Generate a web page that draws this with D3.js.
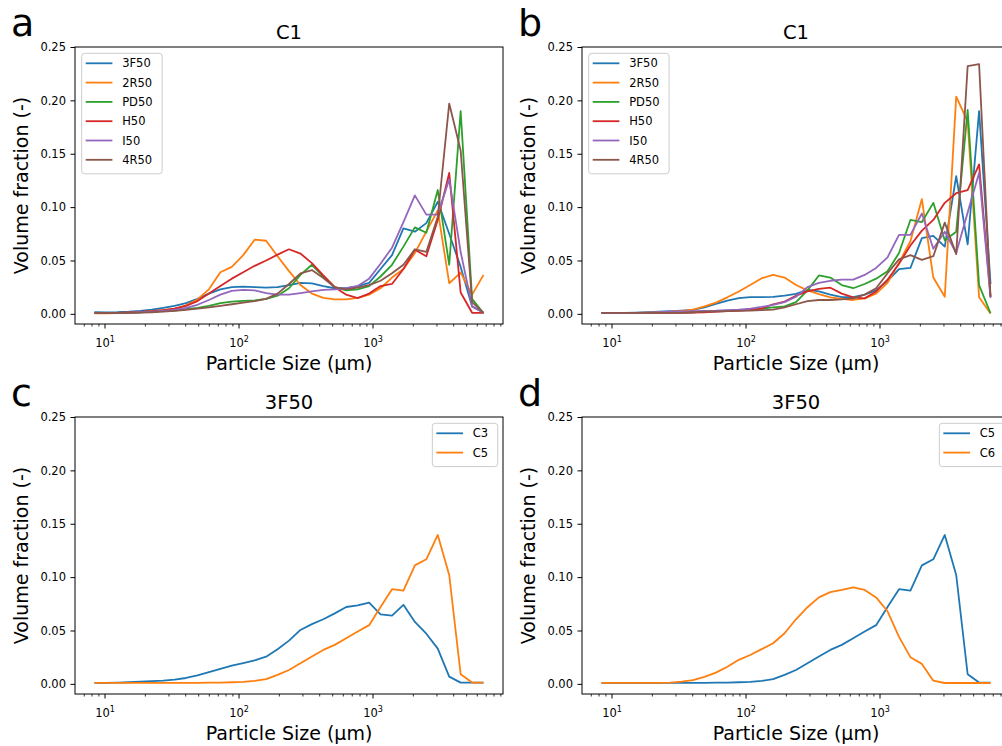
<!DOCTYPE html>
<html>
<head>
<meta charset="utf-8">
<script src="https://cdn.jsdelivr.net/npm/d3@7"></script>
<style>
  body { margin: 0; background: #fff; }
  svg { display: block; }
  text { font-family: "DejaVu Sans", sans-serif; fill: #000; }
</style>
</head>
<body>
<svg id="fig" width="1002" height="746"></svg>
<script>
// Particle size bins (µm), log-spaced
const sizes = [8.41, 10.24, 12.47, 15.18, 18.48, 22.49, 27.38, 33.33, 40.57, 49.39,
  60.12, 73.18, 89.09, 108.4, 132.0, 160.7, 195.6, 238.1, 289.9, 352.9,
  429.5, 522.9, 636.5, 774.8, 943.2, 1148, 1398, 1701, 2071, 2521,
  3069, 3736, 4548, 5536, 6740];

// Panel a: C1
const c1a_3F50 = [0.0015,0.0013,0.0015,0.002,0.0028,0.004,0.0055,0.0075,0.010,0.014,
  0.019,0.023,0.025,0.0255,0.025,0.0245,0.025,0.027,0.029,0.0285,
  0.026,0.024,0.024,0.026,0.029,0.042,0.055,0.080,0.077,0.085,
  0.105,0.075,0.044,0.007,0.001];
const c1a_2R50 = [0.0005,0.0005,0.0006,0.001,0.0015,0.0025,0.0035,0.005,0.008,0.0135,
  0.023,0.039,0.044,0.055,0.0695,0.0685,0.054,0.040,0.027,0.019,
  0.015,0.0135,0.0135,0.015,0.018,0.024,0.034,0.042,0.057,0.077,
  0.097,0.0287,0.0387,0.018,0.0365];
const c1a_PD50 = [0.001,0.001,0.001,0.0012,0.0015,0.002,0.0025,0.003,0.0044,0.0055,
  0.0075,0.010,0.0115,0.0122,0.0125,0.014,0.017,0.024,0.0365,0.046,
  0.035,0.025,0.022,0.023,0.026,0.035,0.046,0.063,0.081,0.076,
  0.116,0.046,0.190,0.014,0.0006];
const c1a_H50 = [0.001,0.001,0.001,0.0013,0.0018,0.0025,0.0035,0.005,0.0075,0.012,
  0.019,0.026,0.033,0.039,0.045,0.050,0.0555,0.0605,0.0565,0.0475,
  0.036,0.025,0.018,0.0148,0.019,0.026,0.028,0.042,0.060,0.054,
  0.088,0.132,0.020,0.001,0.001];
const c1a_I50 = [0.001,0.001,0.001,0.0012,0.0015,0.002,0.0028,0.0038,0.0055,0.0085,
  0.013,0.018,0.0215,0.0225,0.022,0.0195,0.018,0.018,0.0195,0.021,
  0.0225,0.023,0.024,0.026,0.033,0.047,0.062,0.086,0.111,0.093,
  0.093,0.126,0.058,0.007,0.001];
const c1a_4R50 = [0.001,0.0008,0.0008,0.001,0.0012,0.0015,0.002,0.0028,0.0038,0.005,
  0.006,0.0075,0.009,0.0105,0.012,0.014,0.019,0.028,0.038,0.041,
  0.0335,0.025,0.023,0.0245,0.027,0.031,0.038,0.046,0.0605,0.058,
  0.091,0.197,0.153,0.011,0.001];

// Panel b: C1
const c1b_3F50 = [0.001,0.001,0.001,0.0012,0.0015,0.002,0.0025,0.003,0.0037,0.006,
  0.0094,0.0125,0.0147,0.0156,0.0156,0.016,0.017,0.0187,0.0225,0.021,
  0.018,0.0156,0.0156,0.018,0.022,0.031,0.042,0.043,0.071,0.073,
  0.063,0.129,0.065,0.190,0.028];
const c1b_2R50 = [0.001,0.001,0.001,0.001,0.0012,0.0015,0.002,0.0028,0.004,0.007,
  0.0105,0.0155,0.021,0.027,0.0334,0.0365,0.034,0.027,0.022,0.0185,
  0.0155,0.014,0.013,0.0145,0.019,0.029,0.048,0.068,0.1075,0.034,
  0.016,0.2035,0.180,0.0156,0.0003];
const c1b_PD50 = [0.001,0.001,0.001,0.001,0.001,0.001,0.0012,0.0013,0.0015,0.002,
  0.0025,0.003,0.0035,0.004,0.005,0.006,0.007,0.011,0.022,0.036,
  0.034,0.027,0.024,0.028,0.033,0.040,0.057,0.088,0.086,0.104,
  0.069,0.077,0.191,0.027,0.0006];
const c1b_H50 = [0.001,0.001,0.001,0.001,0.001,0.001,0.001,0.001,0.0012,0.0015,
  0.002,0.0025,0.003,0.0037,0.005,0.009,0.0115,0.017,0.021,0.0235,
  0.0245,0.019,0.0155,0.0145,0.021,0.032,0.047,0.064,0.078,0.088,
  0.104,0.113,0.116,0.140,0.016];
const c1b_I50 = [0.001,0.001,0.001,0.001,0.0012,0.0015,0.002,0.0022,0.0025,0.0028,
  0.003,0.0035,0.004,0.005,0.0065,0.0085,0.011,0.016,0.025,0.029,
  0.031,0.032,0.032,0.0365,0.043,0.053,0.074,0.074,0.094,0.061,
  0.077,0.057,0.095,0.132,0.015];
const c1b_4R50 = [0.001,0.001,0.001,0.001,0.001,0.001,0.001,0.001,0.0015,0.002,
  0.0022,0.0025,0.0028,0.003,0.0035,0.004,0.006,0.009,0.012,0.013,
  0.013,0.0135,0.0145,0.018,0.024,0.038,0.051,0.055,0.0505,0.054,
  0.0855,0.056,0.232,0.234,0.016];

// Panels c and d: 3F50
const f3F50_C3 = [0.001,0.001,0.0012,0.0015,0.002,0.0025,0.003,0.004,0.0055,0.008,
  0.011,0.014,0.017,0.0195,0.022,0.0255,0.0325,0.0405,0.0505,0.056,
  0.0605,0.066,0.072,0.0735,0.076,0.065,0.064,0.074,0.058,0.047,
  0.033,0.0068,0.0012,0.0012,0.0012];
const f3F50_C5 = [0.001,0.001,0.001,0.001,0.001,0.001,0.001,0.001,0.001,0.001,
  0.0011,0.0012,0.0015,0.0019,0.0028,0.0044,0.0084,0.013,0.0194,0.0256,
  0.0318,0.0365,0.0428,0.049,0.055,0.072,0.0887,0.0874,0.111,0.1167,
  0.1395,0.102,0.009,0.0012,0.0012];
const f3F50_C6 = [0.001,0.001,0.001,0.001,0.001,0.001,0.0012,0.002,0.0035,0.0065,
  0.0105,0.016,0.0225,0.027,0.0325,0.038,0.0474,0.0605,0.0718,0.081,
  0.086,0.088,0.0905,0.088,0.081,0.068,0.044,0.025,0.0187,0.003,
  0.0008,0.0008,0.0008,0.0008,0.0008];

const yTicks = [0, 0.05, 0.10, 0.15, 0.20, 0.25];
const tab10 = ["#1f77b4", "#ff7f0e", "#2ca02c", "#d62728", "#9467bd", "#8c564b"];

const panels = [
  { letter: "a", title: "C1", left: 75, top: 47, legend: "left",
    series: [["3F50", c1a_3F50], ["2R50", c1a_2R50], ["PD50", c1a_PD50],
             ["H50", c1a_H50], ["I50", c1a_I50], ["4R50", c1a_4R50]] },
  { letter: "b", title: "C1", left: 582, top: 47, legend: "left",
    series: [["3F50", c1b_3F50], ["2R50", c1b_2R50], ["PD50", c1b_PD50],
             ["H50", c1b_H50], ["I50", c1b_I50], ["4R50", c1b_4R50]] },
  { letter: "c", title: "3F50", left: 75, top: 417, legend: "right",
    series: [["C3", f3F50_C3], ["C5", f3F50_C5]] },
  { letter: "d", title: "3F50", left: 582, top: 417, legend: "right",
    series: [["C5", f3F50_C5], ["C6", f3F50_C6]] }
];

const svg = d3.select("#fig");
const W = 428, H = 277;
const FS_TICK = 11.5, FS_LABEL = 19, FS_TITLE = 19.5;

// x limits: data range in log space with 5% margins
const lo = Math.log10(d3.min(sizes)), hi = Math.log10(d3.max(sizes));
const m = 0.05 * (hi - lo);
const xDomain = [Math.pow(10, lo - m), Math.pow(10, hi + m)];
const yDomain = [-0.0095, 0.25];

function drawPanel(p) {
  const g = svg.append("g").attr("transform", `translate(${p.left},${p.top})`);
  const x = d3.scaleLog().domain(xDomain).range([0, W]);
  const y = d3.scaleLinear().domain(yDomain).range([H, 0]);

  const clipId = "clip-" + p.letter;
  g.append("clipPath").attr("id", clipId)
    .append("rect").attr("width", W).attr("height", H);

  const line = d3.line().x((d, i) => x(sizes[i])).y(d => y(d));
  const plot = g.append("g").attr("clip-path", `url(#${clipId})`);
  p.series.forEach((s, k) => {
    plot.append("path")
      .attr("d", line(s[1]))
      .attr("fill", "none")
      .attr("stroke", tab10[k])
      .attr("stroke-width", 1.8)
      .attr("stroke-linejoin", "round");
  });

  // y axis
  const yAx = g.append("g").call(
    d3.axisLeft(y).tickValues(yTicks).tickFormat(d3.format(".2f"))
      .tickSize(4.5).tickPadding(4.5));
  yAx.select(".domain").remove();
  yAx.selectAll("line").attr("stroke", "#000");
  yAx.selectAll("text").attr("font-size", FS_TICK).attr("font-family", "DejaVu Sans").attr("fill", "#000");

  // x axis: major decades and minor ticks
  const all = x.ticks();
  const major = all.filter(v => Math.abs(Math.log10(v) - Math.round(Math.log10(v))) < 1e-9);
  const minor = all.filter(v => !major.includes(v));
  const xMinor = g.append("g").attr("transform", `translate(0,${H})`)
    .call(d3.axisBottom(x).tickValues(minor).tickSize(2.5).tickFormat(""));
  xMinor.select(".domain").remove();
  xMinor.selectAll("line").attr("stroke", "#000").attr("stroke-width", 0.8);
  const xMajor = g.append("g").attr("transform", `translate(0,${H})`)
    .call(d3.axisBottom(x).tickValues(major).tickSize(4.5).tickFormat(""));
  xMajor.select(".domain").remove();
  xMajor.selectAll("line").attr("stroke", "#000");
  xMajor.selectAll(".tick").each(function (v) {
    const t = d3.select(this).append("text")
      .attr("y", 22.5).attr("text-anchor", "middle")
      .attr("font-size", FS_TICK).attr("fill", "#000").attr("font-family", "DejaVu Sans");
    t.append("tspan").text("10");
    t.append("tspan").attr("font-size", FS_TICK * 0.7).attr("dy", -4.2)
      .text(String(Math.round(Math.log10(v))));
  });

  // frame
  g.append("rect").attr("width", W).attr("height", H)
    .attr("fill", "none").attr("stroke", "#000").attr("stroke-width", 1);

  // labels
  g.append("text").attr("x", W / 2).attr("y", -8).attr("text-anchor", "middle")
    .attr("font-size", FS_TITLE).text(p.title);
  g.append("text").attr("x", W / 2).attr("y", H + 46).attr("text-anchor", "middle")
    .attr("font-size", FS_LABEL).text("Particle Size (µm)");
  g.append("text").attr("transform", `translate(-47,${H / 2}) rotate(-90)`)
    .attr("text-anchor", "middle").attr("font-size", FS_LABEL).text("Volume fraction (-)");

  // legend
  const lg = g.append("g");
  const box = lg.append("rect");
  const texts = p.series.map((s, k) => lg.append("text")
    .attr("font-size", FS_TICK).attr("dy", "0.35em").text(s[0]));
  const maxW = d3.max(texts, t => t.node().getComputedTextLength());
  const bw = 40.5 + maxW + 9.5;
  const rowH = 19.3;
  const bh = 10 + (p.series.length - 1) * rowH + 14;
  const bx = p.legend === "left" ? 6.7 : W - 5.3 - bw;
  const by = 6.3;
  box.attr("x", bx).attr("y", by).attr("width", bw).attr("height", bh)
    .attr("rx", 3).attr("fill", "#fff").attr("fill-opacity", 0.8)
    .attr("stroke", "#cccccc").attr("stroke-width", 1);
  p.series.forEach((s, k) => {
    const ry = by + 10 + k * rowH;
    lg.append("line").attr("x1", bx + 4).attr("x2", bx + 30.7)
      .attr("y1", ry).attr("y2", ry)
      .attr("stroke", tab10[k]).attr("stroke-width", 1.8);
    texts[k].attr("x", bx + 40.5).attr("y", ry);
  });

  // panel letter
  svg.append("text").attr("x", p.left - 64).attr("y", p.top - 11)
    .attr("font-family", "Liberation Sans, Arial, sans-serif")
    .attr("font-size", 38).text(p.letter);
}

panels.forEach(drawPanel);
</script>
</body>
</html>
